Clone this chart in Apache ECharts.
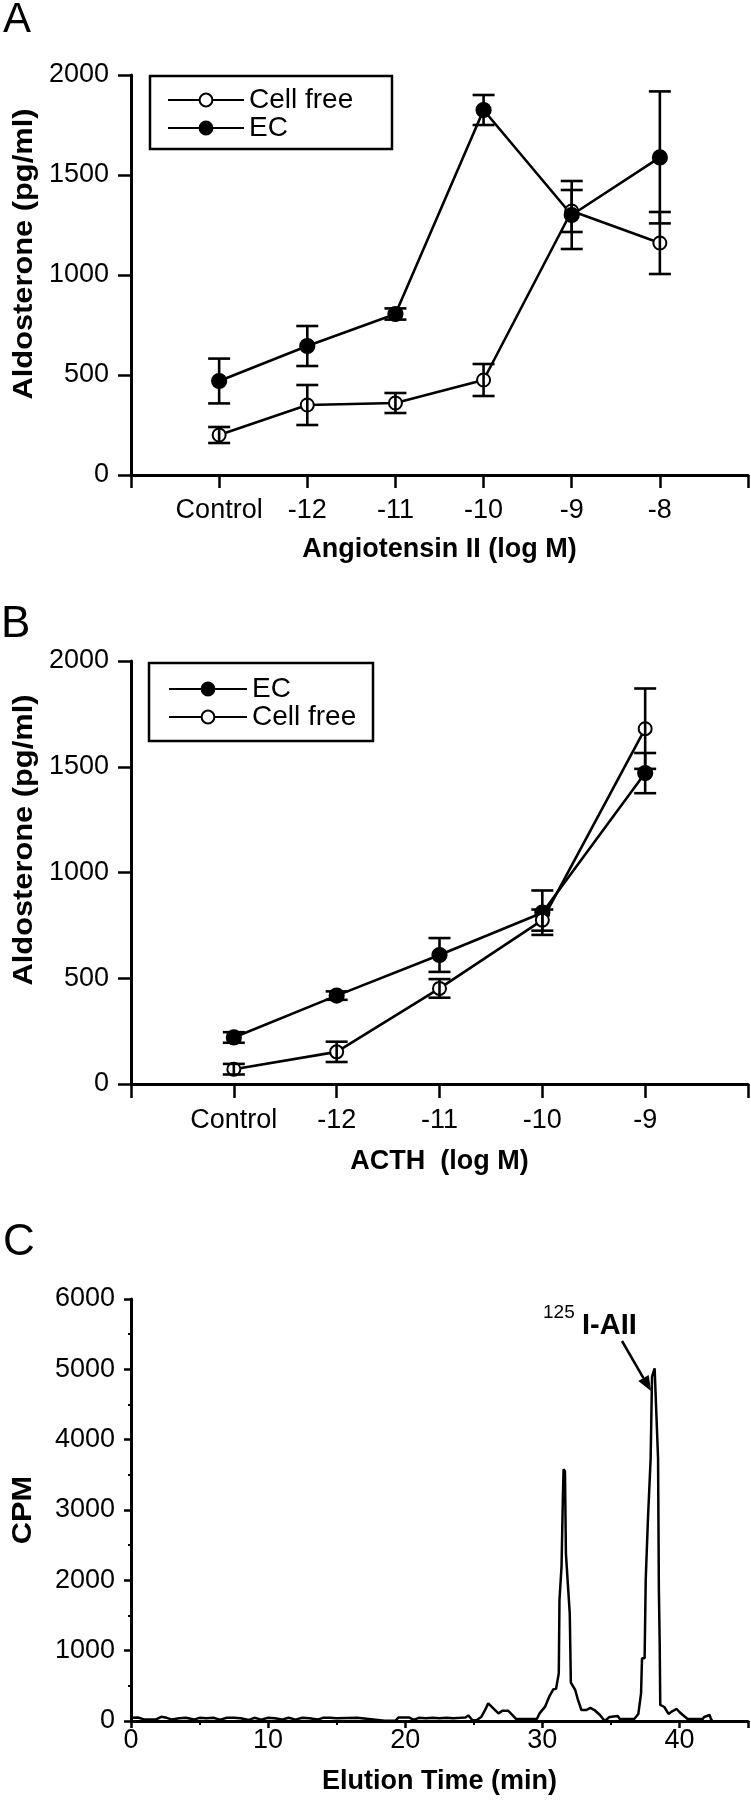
<!DOCTYPE html>
<html><head><meta charset="utf-8">
<script src="https://cdn.jsdelivr.net/npm/echarts@6/dist/echarts.min.js"></script>
<style>html,body{margin:0;padding:0;background:#fff}#c{width:751px;height:1800px}</style>
</head><body><div id="c"></div>
<script>
const FONT = "'Liberation Sans', Arial, Helvetica, sans-serif";

// ---------- Panel A: Angiotensin II ----------
const catsA = ['Control', '-12', '-11', '-10', '-9', '-8'];
const aCellFree = [200, 350, 360, 475, 1320, 1160];
const aCellFreeErr = [40, 100, 50, 80, 105, 155];
const aEC = [470, 645, 805, 1825, 1300, 1588];
const aECErr = [112, 100, 28, 75, 170, 330];

// ---------- Panel B: ACTH ----------
const catsB = ['Control', '-12', '-11', '-10', '-9'];
const bEC = [220, 418, 610, 810, 1470];
const bECErr = [25, 20, 80, 105, 95];
const bCellFree = [70, 152, 452, 775, 1680];
const bCellFreeErr = [25, 48, 44, 50, 190];

// ---------- Panel C: HPLC elution trace [min, CPM] ----------
const cTrace = [[0,45],[0.5,50],[1,20],[1.8,20],[2.2,60],[2.6,45],[3,20],[3.5,40],[4,45],[4.6,20],[5,45],[5.5,40],[6,45],[6.5,20],[7,45],[7.5,45],[8,40],[8.6,15],[9,45],[9.5,20],[10,45],[10.5,40],[11,20],[11.5,45],[12,20],[12.5,45],[13,40],[13.6,20],[14,45],[14.5,45],[15,40],[16.5,45],[18.5,5],[19.3,5],[19.5,50],[20.3,50],[20.6,15],[21,45],[21.5,40],[22,45],[22.5,40],[23,45],[23.5,40],[24,45],[24.4,50],[24.6,80],[24.9,10],[25.2,10],[25.56,61],[25.8,147],[26.05,251],[26.3,204],[26.5,166],[26.8,109],[27.1,147],[27.5,147],[27.7,109],[28.1,28],[29.6,28],[29.8,109],[30.2,204],[30.5,346],[30.8,450],[31.0,457],[31.2,678],[31.25,1720],[31.4,2194],[31.5,3200],[31.55,3580],[31.65,3550],[31.72,2380],[31.85,2360],[32.0,1531],[32.08,545],[32.4,441],[32.6,299],[32.85,156],[33.2,156],[33.5,185],[33.8,156],[34.2,85],[34.55,0],[34.9,56],[35.5,71],[35.65,28],[36.7,28],[37.0,100],[37.2,393],[37.27,891],[37.46,891],[37.54,2005],[37.7,2858],[37.9,3735],[38.0,4896],[38.19,5015],[38.3,4990],[38.44,3735],[38.5,1863],[38.56,1104],[38.6,228],[38.9,199],[39.2,100],[39.5,142],[39.8,171],[40.0,128],[40.25,85],[40.6,28],[40.9,28],[41.7,28],[41.8,57],[42.2,85],[42.3,28],[42.4,0]];

// ---------- helpers ----------
function pts(vals) { return vals.map((v, i) => [i + 1, v]); }
function errData(vals, errs) { return vals.map((v, i) => [i + 1, v - errs[i], v + errs[i]]); }

const LW = 2.6;
function errRender(params, api) {
  const x = api.value(0);
  const lo = api.coord([x, api.value(1)]);
  const hi = api.coord([x, api.value(2)]);
  const hw = 11;
  const st = { stroke: '#000', lineWidth: LW };
  return { type: 'group', children: [
    { type: 'line', shape: { x1: hi[0], y1: hi[1], x2: lo[0], y2: lo[1] }, style: st },
    { type: 'line', shape: { x1: hi[0] - hw, y1: hi[1], x2: hi[0] + hw, y2: hi[1] }, style: st },
    { type: 'line', shape: { x1: lo[0] - hw, y1: lo[1], x2: lo[0] + hw, y2: lo[1] }, style: st }
  ]};
}

const tickLabel = { fontSize: 27, color: '#000', fontFamily: FONT };
const axisNameStyle = { fontSize: 27, fontWeight: 'bold', color: '#000', fontFamily: FONT };
const axLine = { show: true, onZero: false, lineStyle: { color: '#000', width: 3 } };
const plain = v => String(v);

function lineSeries(name, data, filled, xi) {
  return {
    type: 'line', name: name, xAxisIndex: xi, yAxisIndex: xi, data: data,
    symbol: filled ? 'circle' : 'emptyCircle', symbolSize: filled ? 14 : 13,
    showAllSymbol: true,
    lineStyle: { color: '#000', width: LW },
    itemStyle: { color: '#000', borderColor: '#000', borderWidth: 2.2 },
    z: 3, animation: false, silent: true
  };
}
function errSeries(data, xi) {
  return { type: 'custom', xAxisIndex: xi, yAxisIndex: xi, data: data,
    renderItem: errRender, z: 4, animation: false, silent: true };
}

// arrow for annotation
const arrowFrom = [622, 1341], arrowTip = [651, 1391];
const adx = arrowTip[0] - arrowFrom[0], ady = arrowTip[1] - arrowFrom[1];
const alen = Math.sqrt(adx * adx + ady * ady);
const ux = adx / alen, uy = ady / alen;
const headL = 15, headW = 6;
const bx = arrowTip[0] - ux * headL, by = arrowTip[1] - uy * headL;

const yTitle = (x, y, text) => ({ type: 'text', x: x, y: y, rotation: Math.PI / 2, scaleX: 1.1,
  style: { text: text, fontSize: 28, fontWeight: 'bold', fontFamily: FONT, fill: '#000', align: 'center', verticalAlign: 'middle' } });
const legendBox = (x, y, w, h) => ({ type: 'rect', shape: { x: x, y: y, width: w, height: h }, z: 5,
  style: { fill: '#fff', stroke: '#000', lineWidth: 2.5 } });
const legendText = { fontSize: 28, lineHeight: 28, color: '#000', fontFamily: FONT };

const chart = echarts.init(document.getElementById('c'), null, { renderer: 'canvas' });
chart.setOption({
  backgroundColor: '#fff',
  animation: false,
  grid: [
    { left: 131, top: 75, width: 617, height: 400 },
    { left: 131, top: 661, width: 619, height: 423 },
    { left: 131, top: 1299, width: 618, height: 422 }
  ],
  xAxis: [
    { gridIndex: 0, type: 'value', min: 0, max: 7, interval: 1,
      axisLine: axLine, axisTick: { show: true, length: 13, lineStyle: { color: '#000', width: 2.5 } },
      axisLabel: Object.assign({ margin: 22, formatter: v => catsA[v - 1] || '' }, tickLabel),
      splitLine: { show: false },
      name: 'Angiotensin II (log M)', nameLocation: 'middle', nameGap: 61, nameTextStyle: axisNameStyle },
    { gridIndex: 1, type: 'value', min: 0, max: 6, interval: 1,
      axisLine: axLine, axisTick: { show: true, length: 14, lineStyle: { color: '#000', width: 2.5 } },
      axisLabel: Object.assign({ margin: 23, formatter: v => catsB[v - 1] || '' }, tickLabel),
      splitLine: { show: false },
      name: 'ACTH  (log M)', nameLocation: 'middle', nameGap: 64, nameTextStyle: axisNameStyle },
    { gridIndex: 2, type: 'value', min: 0, max: 45, interval: 10,
      axisLine: axLine, axisTick: { show: true, length: 7, lineStyle: { color: '#000', width: 2.5 } },
      minorTick: { show: true, splitNumber: 2, length: 4, lineStyle: { color: '#000', width: 2 } },
      axisLabel: Object.assign({ margin: 6, formatter: v => (v % 10 === 0 ? String(v) : '') }, tickLabel),
      splitLine: { show: false }, minorSplitLine: { show: false },
      name: 'Elution Time (min)', nameLocation: 'middle', nameGap: 47, nameTextStyle: axisNameStyle }
  ],
  yAxis: [
    { gridIndex: 0, type: 'value', min: 0, max: 2000, interval: 500,
      axisLine: axLine, axisTick: { show: true, length: 13, lineStyle: { color: '#000', width: 2.5 } },
      axisLabel: Object.assign({ margin: 22, formatter: plain }, tickLabel), splitLine: { show: false } },
    { gridIndex: 1, type: 'value', min: 0, max: 2000, interval: 500,
      axisLine: axLine, axisTick: { show: true, length: 13, lineStyle: { color: '#000', width: 2.5 } },
      axisLabel: Object.assign({ margin: 22, formatter: plain }, tickLabel), splitLine: { show: false } },
    { gridIndex: 2, type: 'value', min: 0, max: 6000, interval: 1000,
      axisLine: axLine, axisTick: { show: true, length: 7, lineStyle: { color: '#000', width: 2.5 } },
      minorTick: { show: true, splitNumber: 2, length: 3, lineStyle: { color: '#000', width: 2 } },
      axisLabel: Object.assign({ margin: 16, formatter: plain }, tickLabel), splitLine: { show: false }, minorSplitLine: { show: false } }
  ],
  legend: [
    { left: 167, top: 86, orient: 'vertical', data: ['Cell free', 'EC'], selectedMode: false,
      itemWidth: 76, itemHeight: 16, itemGap: 0, padding: 0, z: 10, textStyle: legendText },
    { left: 168, top: 675, orient: 'vertical', data: ['EC', 'Cell free'], selectedMode: false,
      itemWidth: 78, itemHeight: 16, itemGap: 0, padding: 0, z: 10, textStyle: legendText }
  ],
  graphic: [
    legendBox(150, 76, 242, 73),
    legendBox(149, 663, 224, 78),
    { type: 'text', x: 3, y: 20, style: { text: 'A', fontSize: 42, fontFamily: FONT, fill: '#000', align: 'left', verticalAlign: 'middle' } },
    { type: 'text', x: 1, y: 625, style: { text: 'B', fontSize: 44, fontFamily: FONT, fill: '#000', align: 'left', verticalAlign: 'middle' } },
    { type: 'text', x: 3, y: 1243, style: { text: 'C', fontSize: 44, fontFamily: FONT, fill: '#000', align: 'left', verticalAlign: 'middle' } },
    yTitle(24, 254, 'Aldosterone (pg/ml)'),
    yTitle(24, 840, 'Aldosterone (pg/ml)'),
    yTitle(23, 1510, 'CPM'),
    { type: 'text', x: 543, y: 1313, style: { text: '125', fontSize: 19, fontFamily: FONT, fill: '#000', align: 'left', verticalAlign: 'middle' } },
    { type: 'text', x: 582, y: 1326, style: { text: 'I-AII', fontSize: 29, fontWeight: 'bold', fontFamily: FONT, fill: '#000', align: 'left', verticalAlign: 'middle' } },
    { type: 'line', shape: { x1: arrowFrom[0], y1: arrowFrom[1], x2: bx, y2: by }, style: { stroke: '#000', lineWidth: 2.5 } },
    { type: 'polygon', shape: { points: [arrowTip, [bx - uy * headW, by + ux * headW], [bx + uy * headW, by - ux * headW]] }, style: { fill: '#000' } }
  ],
  series: [
    lineSeries('Cell free', pts(aCellFree), false, 0),
    lineSeries('EC', pts(aEC), true, 0),
    errSeries(errData(aCellFree, aCellFreeErr), 0),
    errSeries(errData(aEC, aECErr), 0),
    lineSeries('EC', pts(bEC), true, 1),
    lineSeries('Cell free', pts(bCellFree), false, 1),
    errSeries(errData(bEC, bECErr), 1),
    errSeries(errData(bCellFree, bCellFreeErr), 1),
    { type: 'line', name: 'CPM', xAxisIndex: 2, yAxisIndex: 2, data: cTrace, showSymbol: false, symbol: 'none',
      lineStyle: { color: '#000', width: 2.5 }, z: 3, animation: false, silent: true }
  ]
});
</script></body></html>
